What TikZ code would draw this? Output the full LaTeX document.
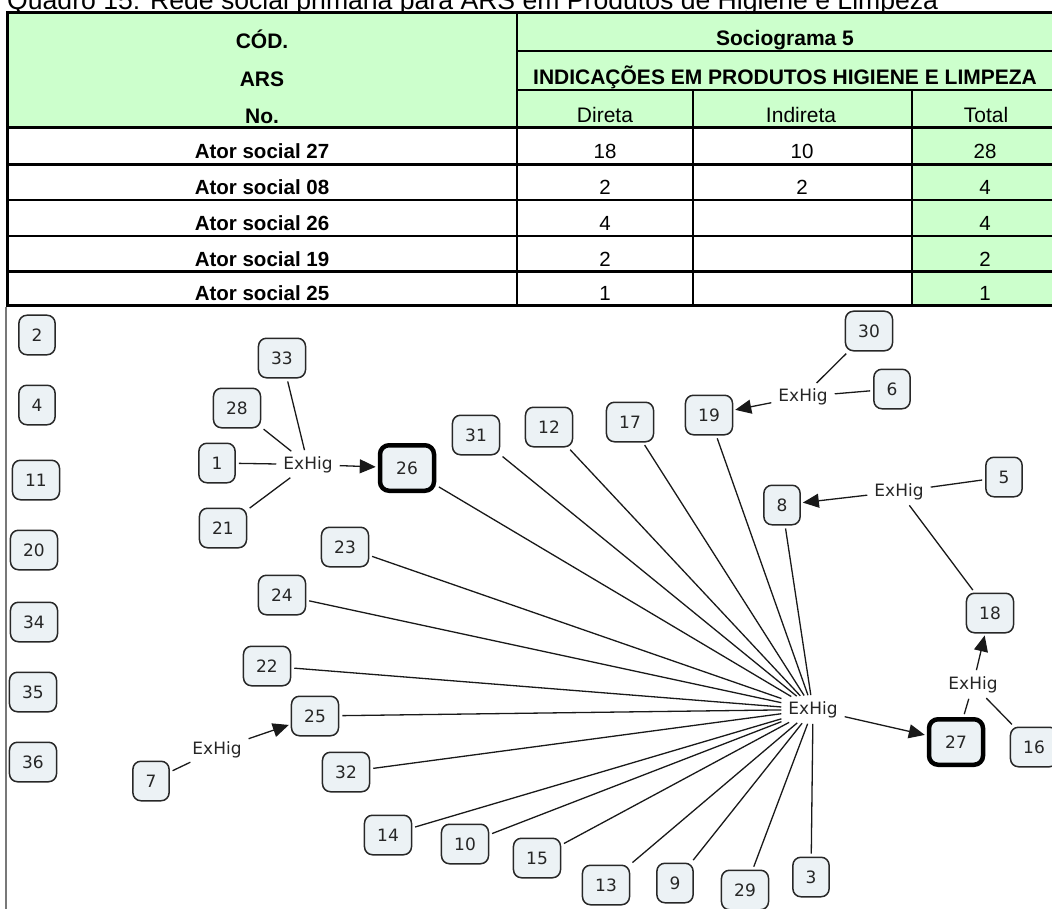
\documentclass[tikz,border=0pt]{standalone}
\usepackage{fontspec}
\setmainfont{Liberation Sans}
\newfontfamily\mapfont{DejaVu Sans}
\usetikzlibrary{arrows.meta}

\definecolor{cellgreen}{RGB}{204,255,204}
\definecolor{conceptfill}{RGB}{236,242,245}
\definecolor{conceptline}{RGB}{40,40,40}
\definecolor{framegray}{RGB}{120,120,120}

\begin{document}
\begin{tikzpicture}[x=1pt,y=-1pt,
  concept/.style={draw=conceptline, fill=conceptfill, line width=1.5pt,
    rounded corners=8pt, font=\mapfont\fontsize{17}{20}\selectfont,
    inner xsep=12.7pt, inner ysep=0pt, minimum height=39.5pt, text=black!85},
  keyconcept/.style={concept, draw=black, line width=4.5pt,
    minimum width=54pt, minimum height=45.5pt, rounded corners=9pt},
  phrase/.style={font=\mapfont\fontsize{17}{20}\selectfont,
    inner xsep=4pt, inner ysep=3pt, text=black!85},
  link/.style={line width=1.3pt, black!90, shorten <=3pt, shorten >=3pt},
  linkarrow/.style={link, shorten >=2pt, -{Triangle[length=16pt,width=14pt]}},
  hdr/.style={font=\bfseries\fontsize{21}{24}\selectfont, anchor=base, inner sep=0pt},
  cell/.style={font=\fontsize{20.5}{24}\selectfont, anchor=base, inner sep=0pt},
  rowhead/.style={cell, font=\bfseries\fontsize{20.5}{24}\selectfont},
  tline/.style={line width=2.7pt}
]
\useasboundingbox (0,0) rectangle (1052,909);

% caption line (its upper part lies above the page)
\node[anchor=base west, inner sep=0pt, font=\fontsize{26.6}{30}\selectfont] (title)
  at (7,9.5) {Quadro 15: Rede social primária para ARS em Produtos de Higiene e Limpeza};

% ---- table ----
\fill[cellgreen] (7,12.7) rectangle (1060,128);
\fill[cellgreen] (912,128) rectangle (1060,306);
\draw[line width=3pt] (1060,12.7) -- (7,12.7) -- (7,306) -- (1060,306);
\draw[line width=3pt] (7,128) -- (1060,128);
\foreach \yy in {164.3,200,236,271.7} \draw[tline] (7,\yy) -- (1060,\yy);
\draw[tline] (517,12.7) -- (517,306);
\draw[tline] (517,51) -- (1060,51);
\draw[tline] (517,90) -- (1060,90);
\draw[tline] (693,90) -- (693,306);
\draw[tline] (912,90) -- (912,306);

\node[hdr] (cod) at (262,49) {CÓD.};
\node[hdr] (ars) at (262,87) {ARS};
\node[hdr] (nro) at (262,124) {No.};
\node[hdr] (socio) at (785,46) {Sociograma 5};
\node[hdr] (indic) at (785,84.5) {INDICAÇÕES EM PRODUTOS HIGIENE E LIMPEZA};
\node[cell, font=\fontsize{21}{24}\selectfont] (direta) at (605,122.5) {Direta};
\node[cell, font=\fontsize{21}{24}\selectfont] (indireta) at (801,122.5) {Indireta};
\node[cell, font=\fontsize{21}{24}\selectfont] (total) at (986,122.5) {Total};

\node[rowhead] (r1) at (262,158.8) {Ator social 27};
\node[rowhead] (r2) at (262,194.5) {Ator social 08};
\node[rowhead] (r3) at (262,230.5) {Ator social 26};
\node[rowhead] (r4) at (262,266.2) {Ator social 19};
\node[rowhead] (r5) at (262,300.5) {Ator social 25};

\node[cell] (d1) at (605,158.8) {18};
\node[cell] (d2) at (605,194.5) {2};
\node[cell] (d3) at (605,230.5) {4};
\node[cell] (d4) at (605,266.2) {2};
\node[cell] (d5) at (605,300.5) {1};
\node[cell] (i1) at (802,158.8) {10};
\node[cell] (i2) at (802,194.5) {2};
\node[cell] (t1) at (985,158.8) {28};
\node[cell] (t2) at (985,194.5) {4};
\node[cell] (t3) at (985,230.5) {4};
\node[cell] (t4) at (985,266.2) {2};
\node[cell] (t5) at (985,300.5) {1};

% ---- sociogram ----
\draw[framegray, line width=1.5pt] (6,909) -- (6,307.5);

% isolated actors
\node[concept] (n2)  at (37,335) {2};
\node[concept] (n4)  at (37,405) {4};
\node[concept] (n11) at (36,480) {11};
\node[concept] (n20) at (34,550) {20};
\node[concept] (n34) at (34,622) {34};
\node[concept] (n35) at (33,692) {35};
\node[concept] (n36) at (33,762) {36};

% actors
\node[concept] (n33) at (282,358) {33};
\node[concept] (n28) at (237,408) {28};
\node[concept] (n1)  at (217,463) {1};
\node[concept] (n21) at (223,528) {21};
\node[keyconcept] (n26) at (407,468) {26};
\node[concept] (n31) at (476,435) {31};
\node[concept] (n12) at (549,427) {12};
\node[concept] (n17) at (630,422) {17};
\node[concept] (n19) at (709,415) {19};
\node[concept] (n30) at (869,331) {30};
\node[concept] (n6)  at (892,389) {6};
\node[concept] (n8)  at (782,505) {8};
\node[concept] (n5)  at (1004,477) {5};
\node[concept] (n18) at (990,613) {18};
\node[keyconcept] (n27) at (956,742) {27};
\node[concept] (n16) at (1034,747) {16};
\node[concept] (n23) at (345,547) {23};
\node[concept] (n24) at (282,595) {24};
\node[concept] (n22) at (267,666) {22};
\node[concept] (n25) at (315,716) {25};
\node[concept] (n32) at (346,772) {32};
\node[concept] (n7)  at (151,781) {7};
\node[concept] (n14) at (388,835) {14};
\node[concept] (n10) at (465,844) {10};
\node[concept] (n15) at (537,858) {15};
\node[concept] (n13) at (606,885) {13};
\node[concept] (n9)  at (675,883) {9};
\node[concept] (n29) at (745,890) {29};
\node[concept] (n3)  at (811,877) {3};

% linking phrases
\node[phrase] (e26) at (308,464.5) {ExHig};
\node[phrase] (e19) at (803,396.5) {ExHig};
\node[phrase] (e8)  at (899,491.5) {ExHig};
\node[phrase] (e18) at (973,684.5) {ExHig};
\node[phrase] (e25) at (217,749.5) {ExHig};
\node[phrase] (hub) at (813,709.5) {ExHig};

% links
\foreach \s in {n33,n28,n1,n21} \draw[link] (\s) -- (e26);
\draw[linkarrow] (e26) -- (n26);
\foreach \s in {n30,n6} \draw[link] (\s) -- (e19);
\draw[linkarrow] (e19) -- (n19);
\foreach \s in {n5,n18} \draw[link] (\s) -- (e8);
\draw[linkarrow] (e8) -- (n8);
\foreach \s in {n27,n16} \draw[link] (\s) -- (e18);
\draw[linkarrow] (e18) -- (n18);
\draw[link] (n7) -- (e25);
\draw[linkarrow] (e25) -- (n25);
\foreach \s in {n31,n12,n17,n19,n8,n26,n23,n24,n22,n25,n32,n14,n10,n15,n13,n9,n29,n3}
  \draw[link] (\s) -- (hub);
\draw[linkarrow] (hub) -- (n27);
\end{tikzpicture}
\end{document}
